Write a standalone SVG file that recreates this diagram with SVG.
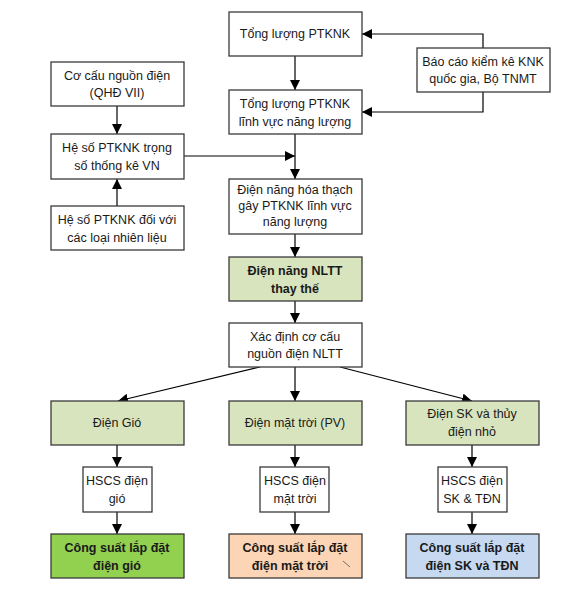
<svg xmlns="http://www.w3.org/2000/svg" width="587" height="595" viewBox="0 0 587 595">
<defs>
<marker id="ah" viewBox="0 0 10 10" refX="10" refY="5" markerWidth="10" markerHeight="10" markerUnits="userSpaceOnUse" orient="auto">
<path d="M0,0 L10,5 L0,10 z" fill="#000"/>
</marker>
<style>
.b{fill:#fff;stroke:#3a3a3a;stroke-width:1.3}
.g{fill:#d7e4bd}
.gg{fill:#92d050}
.p{fill:#fbd5b5}
.bl{fill:#c6d9f1}
text{font-family:"Liberation Sans",Arial,sans-serif;font-size:12.5px;fill:#1a1a1a;text-anchor:middle}
.bd{font-weight:bold;font-size:12.5px}
.c{stroke:#000;stroke-width:1.2;fill:none;marker-end:url(#ah)}
</style>
</defs>
<rect width="587" height="595" fill="#fff"/>
<g id="connectors">
<path class="c" d="M295,56 V90"/>
<path class="c" d="M295,134 V179"/>
<path class="c" d="M295,234 V257"/>
<path class="c" d="M295,301 V323"/>
<path class="c" d="M295,367 V401"/>
<path class="c" d="M260,367 L118,401"/>
<path class="c" d="M340,367 L472,401"/>
<path class="c" d="M483,48 V34 H362"/>
<path class="c" d="M483,92 V112 H362"/>
<path class="c" d="M184,156 H295"/>
<path class="c" d="M117,106 V134"/>
<path class="c" d="M117,206 V179"/>
<path class="c" d="M117,445 V467"/>
<path class="c" d="M295,445 V467"/>
<path class="c" d="M472,445 V467"/>
<path class="c" d="M117,512 V534"/>
<path class="c" d="M295,512 V534"/>
<path class="c" d="M472,512 V534"/>
</g>
<g id="n1"><rect class="b" x="229" y="12" width="133" height="44"/><text x="295" y="38">Tổng lượng PTKNK</text></g>
<g id="n2"><rect class="b" x="229" y="90" width="133" height="44"/><text x="295" y="108">Tổng lượng PTKNK</text><text x="295" y="126">lĩnh vực năng lượng</text></g>
<g id="n3"><rect class="b" x="229" y="179" width="133" height="55"/><text x="295" y="194">Điện năng hóa thạch</text><text x="295" y="210">gây PTKNK lĩnh vực</text><text x="295" y="226">năng lượng</text></g>
<g id="n4"><rect class="b g" x="229" y="257" width="133" height="44"/><text class="bd" x="295" y="275">Điện năng NLTT</text><text class="bd" x="295" y="293">thay thế</text></g>
<g id="n5"><rect class="b" x="229" y="323" width="133" height="44"/><text x="295" y="341">Xác định cơ cấu</text><text x="295" y="358">nguồn điện NLTT</text></g>
<g id="bc"><rect class="b" x="417" y="48" width="133" height="44"/><text x="483" y="66">Báo cáo kiểm kê KNK</text><text x="483" y="83">quốc gia, Bộ TNMT</text></g>
<g id="cc"><rect class="b" x="51" y="62" width="133" height="44"/><text x="117" y="80">Cơ cấu nguồn điện</text><text x="117" y="97">(QHĐ VII)</text></g>
<g id="hs"><rect class="b" x="51" y="134" width="133" height="45"/><text x="117" y="152">Hệ số PTKNK trọng</text><text x="117" y="170">số thống kê VN</text></g>
<g id="hs2"><rect class="b" x="51" y="206" width="133" height="44"/><text x="117" y="224">Hệ số PTKNK đối với</text><text x="117" y="242">các loại nhiên liệu</text></g>
<g id="gio"><rect class="b g" x="51" y="401" width="133" height="44"/><text x="117" y="427">Điện Gió</text></g>
<g id="mt"><rect class="b g" x="229" y="401" width="133" height="44"/><text x="295" y="427">Điện mặt trời (PV)</text></g>
<g id="sk"><rect class="b g" x="406" y="401" width="133" height="44"/><text x="472" y="418">Điện SK và thủy</text><text x="472" y="436">điện nhỏ</text></g>
<g id="h1"><rect class="b" x="83" y="467" width="69" height="45"/><text x="117" y="485">HSCS điện</text><text x="117" y="503">gió</text></g>
<g id="h2"><rect class="b" x="260" y="467" width="69" height="45"/><text x="295" y="485">HSCS điện</text><text x="295" y="503">mặt trời</text></g>
<g id="h3"><rect class="b" x="438" y="467" width="69" height="45"/><text x="472" y="485">HSCS điện</text><text x="472" y="503">SK &amp; TĐN</text></g>
<g id="cs1"><rect class="b gg" x="51" y="534" width="133" height="44"/><text class="bd" x="117" y="552">Công suất lắp đặt</text><text class="bd" x="117" y="570">điện gió</text></g>
<g id="cs2"><rect class="b p" x="229" y="534" width="133" height="44"/><text class="bd" x="295" y="552">Công suất lắp đặt</text><text class="bd" x="290" y="570">điện mặt trời</text><line x1="343" y1="561" x2="350" y2="567" stroke="#555" stroke-width="0.8"/></g>
<g id="cs3"><rect class="b bl" x="406" y="534" width="133" height="44"/><text class="bd" x="472" y="552">Công suất lắp đặt</text><text class="bd" x="472" y="570">điện SK và TĐN</text></g>
</svg>
